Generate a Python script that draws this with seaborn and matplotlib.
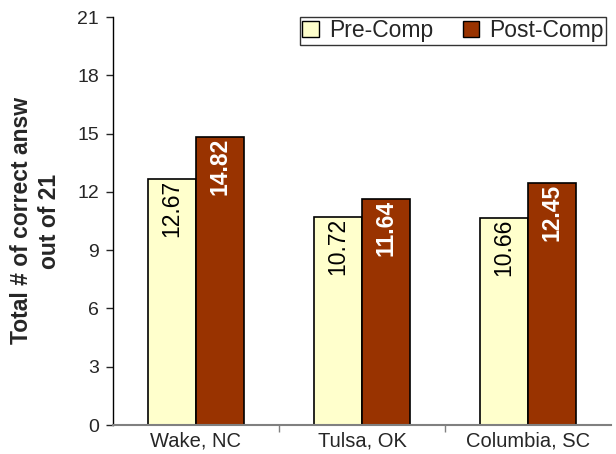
import pandas as pd
import matplotlib.pyplot as plt
import seaborn as sns
import numpy as np

sites = ['Wake, NC', 'Tulsa, OK', 'Columbia, SC']
pre_comp = [12.67, 10.72, 10.66]
post_comp = [14.82, 11.64, 12.45]
series = ['Pre-Comp', 'Post-Comp']
colors = ['#FFFFCC', '#993300']

df = pd.DataFrame({
    'Site': sites * 2,
    'Phase': [series[0]] * 3 + [series[1]] * 3,
    'Score': pre_comp + post_comp,
})

sns.set_style('white')
plt.rcParams['font.family'] = ['Liberation Sans', 'DejaVu Sans']

fig = plt.figure(figsize=(6.16, 4.54), dpi=100)
ax = fig.add_axes([113 / 616, 1 - 425 / 454, 498 / 616, 408 / 454])

sns.barplot(data=df, x='Site', y='Score', hue='Phase', palette=colors,
            width=0.58, gap=0, edgecolor='black', linewidth=1.2,
            saturation=1, ax=ax, legend=False)

# value labels, rotated, inside top of each bar
for container, txtcol, weight in zip(ax.containers, ['black', 'white'], ['normal', 'bold']):
    for bar in container:
        h = bar.get_height()
        ax.text(bar.get_x() + bar.get_width() / 2, h - 0.05, f'{h:.2f}',
                rotation=90, ha='center', va='top', color=txtcol,
                fontsize=16.5, fontweight=weight, clip_on=True)

ax.set_ylim(0, 21)
ax.set_xlim(-0.5, 2.5)
ax.set_yticks(np.arange(0, 22, 3))
ax.tick_params(axis='y', direction='out', length=5, width=1, left=True, labelsize=14, pad=5)
ax.tick_params(axis='x', which='major', length=0, labelsize=14.5, pad=5)
ax.set_xticks([0.5, 1.5], minor=True)
ax.tick_params(axis='x', which='minor', direction='out', length=5, width=1, bottom=True, color='#808080')
ax.set_xlabel('')
ax.set_ylabel('Total # of correct answ\nout of 21', fontsize=16.5, fontweight='bold',
              labelpad=12, linespacing=1.25)

for s in ['top', 'right']:
    ax.spines[s].set_visible(False)
ax.spines['left'].set_color('black')
ax.spines['left'].set_linewidth(1)
ax.spines['bottom'].set_color('#808080')
ax.spines['bottom'].set_linewidth(1.5)

handles = [plt.Rectangle((0, 0), 1, 1, facecolor=c, edgecolor='black', linewidth=1) for c in colors]
leg = fig.legend(handles, series, loc='upper right', bbox_to_anchor=(606 / 616, 1 - 17 / 454),
                 ncol=2, fontsize=16.5, frameon=True, fancybox=False, shadow=False,
                 handlelength=0.7, handleheight=0.7, handletextpad=0.45, columnspacing=1.3,
                 borderpad=0.1, borderaxespad=0)
leg.get_frame().set_edgecolor('black')
leg.get_frame().set_linewidth(1)

fig.savefig('out.png', dpi=100)
